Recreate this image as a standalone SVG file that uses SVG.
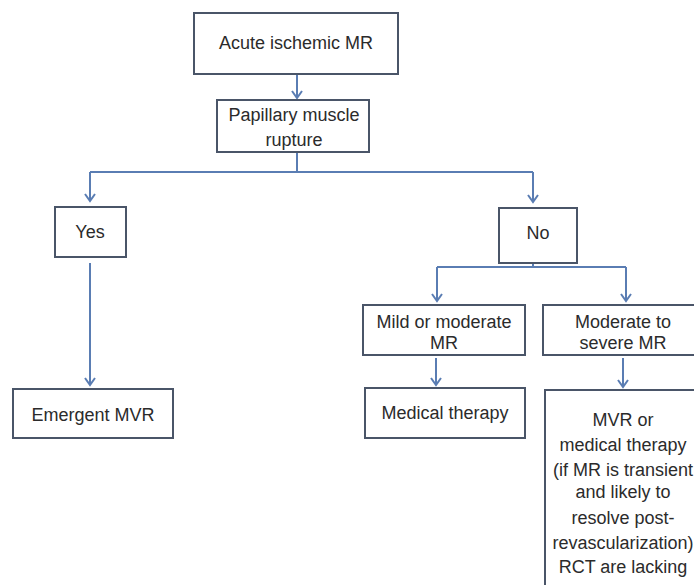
<svg xmlns="http://www.w3.org/2000/svg" width="694" height="585" viewBox="0 0 694 585">
<style>
.box{fill:#fff;stroke:#4a5568;stroke-width:2}
.t{font-family:"Liberation Sans",Arial,sans-serif;font-size:18px;fill:#2b2b2b;text-anchor:middle}
.c{fill:none;stroke:#5a7db3;stroke-width:2}
</style>
<defs>
<marker id="ah" markerWidth="12" markerHeight="12" refX="10" refY="6" orient="auto" markerUnits="userSpaceOnUse" viewBox="0 0 12 12">
<path d="M3,1 L10,6 L3,11" fill="none" stroke="#5a7db3" stroke-width="2"/>
</marker>
</defs>
<rect width="694" height="585" fill="#fff"/>
<g id="connectors">
<path class="c" d="M297,74 V98" marker-end="url(#ah)"/>
<path class="c" d="M297,152 V172"/>
<path class="c" d="M90,172 H533"/>
<path class="c" d="M90,172 V201" marker-end="url(#ah)"/>
<path class="c" d="M533,172 V202" marker-end="url(#ah)"/>
<path class="c" d="M90,263 V385" marker-end="url(#ah)"/>
<path class="c" d="M533,263 V267"/>
<path class="c" d="M437,267 H626"/>
<path class="c" d="M437,267 V301" marker-end="url(#ah)"/>
<path class="c" d="M626,267 V301" marker-end="url(#ah)"/>
<path class="c" d="M436,358 V385" marker-end="url(#ah)"/>
<path class="c" d="M623,358 V387" marker-end="url(#ah)"/>
</g>
<g id="n1"><rect class="box" x="194" y="13" width="204" height="61"/><text class="t" x="296" y="49">Acute ischemic MR</text></g>
<g id="n2"><rect class="box" x="217" y="100" width="152" height="52"/><text class="t" x="294" y="121">Papillary muscle</text><text class="t" x="294" y="146">rupture</text></g>
<g id="n3"><rect class="box" x="55" y="207" width="71" height="50"/><text class="t" x="90" y="238">Yes</text></g>
<g id="n4"><rect class="box" x="499" y="208" width="78" height="55"/><text class="t" x="538" y="239">No</text></g>
<g id="n5"><rect class="box" x="13" y="389" width="160" height="49"/><text class="t" x="93" y="421">Emergent MVR</text></g>
<g id="n6"><rect class="box" x="363" y="305" width="162" height="50"/><text class="t" x="444" y="328">Mild or moderate</text><text class="t" x="444" y="349">MR</text></g>
<g id="n7"><rect class="box" x="543" y="305" width="160" height="50"/><text class="t" x="623" y="328">Moderate to</text><text class="t" x="623" y="349">severe MR</text></g>
<g id="n8"><rect class="box" x="365" y="388" width="160" height="50"/><text class="t" x="445" y="419">Medical therapy</text></g>
<g id="n9"><rect class="box" x="545" y="390" width="160" height="220"/>
<text class="t" x="623" y="426">MVR or</text>
<text class="t" x="623" y="451">medical therapy</text>
<text class="t" x="623" y="476">(if MR is transient</text>
<text class="t" x="623" y="498">and likely to</text>
<text class="t" x="623" y="524">resolve post-</text>
<text class="t" x="623" y="549">revascularization)</text>
<text class="t" x="623" y="573">RCT are lacking</text>
</g>
</svg>
